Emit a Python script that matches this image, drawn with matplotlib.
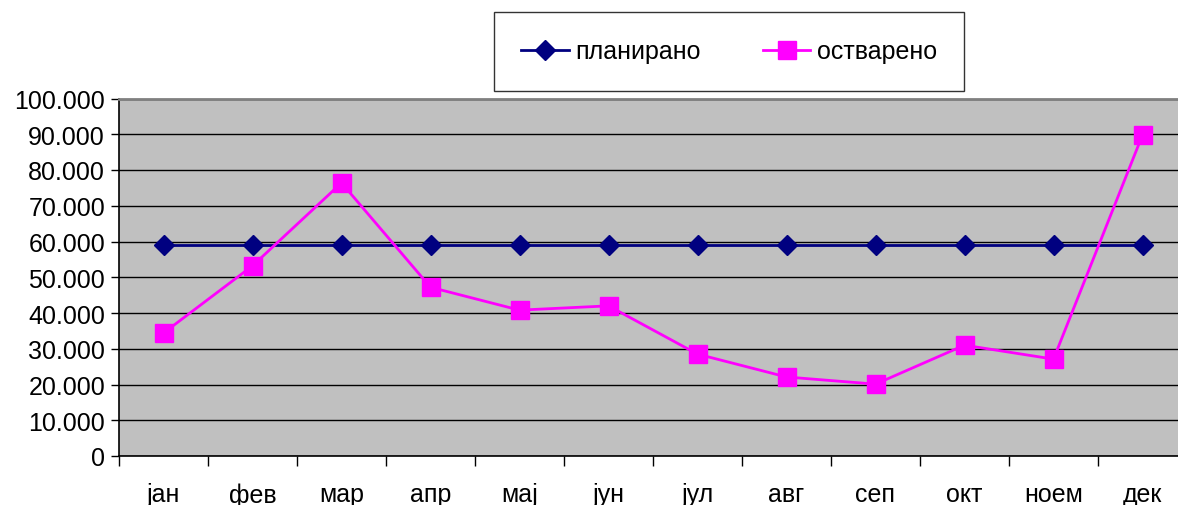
import numpy as np
import matplotlib.pyplot as plt
from matplotlib.ticker import FuncFormatter, FixedLocator

plt.rcParams['font.family'] = ['Liberation Sans', 'DejaVu Sans']

months = ['јан', 'фев', 'мар', 'апр', 'мај', 'јун', 'јул', 'авг', 'сеп', 'окт', 'ноем', 'дек']
planned = [59000] * 12
actual = [34400, 53200, 76400, 47200, 40800, 42000, 28500, 22100, 20100, 31000, 27100, 89800]

fig = plt.figure(figsize=(11.78, 5.06), dpi=100)
W, H = 1178, 506
# plot area runs a little past the right edge of the figure
ax = fig.add_axes([119 / W, 1 - 457 / H, 1068 / W, (457 - 99.5) / H])
ax.set_facecolor('#c0c0c0')

x = np.arange(len(months)) + 0.5
ax.plot(x, planned, color='#000080', lw=2, marker='D', ms=10, label='планирано', zorder=3)
ax.plot(x, actual, color='#ff00ff', lw=2, marker='s', ms=13, label='остварено', zorder=4)

ax.set_xlim(0, 12)
ax.set_ylim(0, 100000)
ax.set_yticks(np.arange(0, 100001, 10000))
ax.yaxis.set_major_formatter(FuncFormatter(lambda v, p: '0' if v == 0 else f'{int(v):,}'.replace(',', '.')))
ax.xaxis.set_major_locator(FixedLocator(np.arange(0, 13)))
ax.xaxis.set_minor_locator(FixedLocator(x))
ax.set_xticklabels([])
ax.set_xticklabels(months, minor=True)
ax.tick_params(axis='x', which='major', direction='out', length=7, width=1, color='black')
ax.tick_params(axis='x', which='minor', length=0, pad=19, labelsize=18)
ax.tick_params(axis='y', direction='out', length=6, width=1, labelsize=18, pad=4)

ax.grid(axis='y', color='black', lw=1)
ax.set_axisbelow(True)
for s in ['left', 'bottom']:
    ax.spines[s].set_color('black')
    ax.spines[s].set_linewidth(1.2)
ax.spines['top'].set_color('#808080')
ax.spines['top'].set_linewidth(2)
ax.spines['right'].set_visible(False)

leg = fig.legend(loc='center', bbox_to_anchor=(729 / W, 1 - 52.5 / H), ncol=2, fontsize=18,
                 frameon=True, fancybox=False, edgecolor='black', borderpad=1.1,
                 columnspacing=2.5, handlelength=1.9, handletextpad=0.25)
leg.get_frame().set_linewidth(1)

fig.savefig('out.png', dpi=100)
